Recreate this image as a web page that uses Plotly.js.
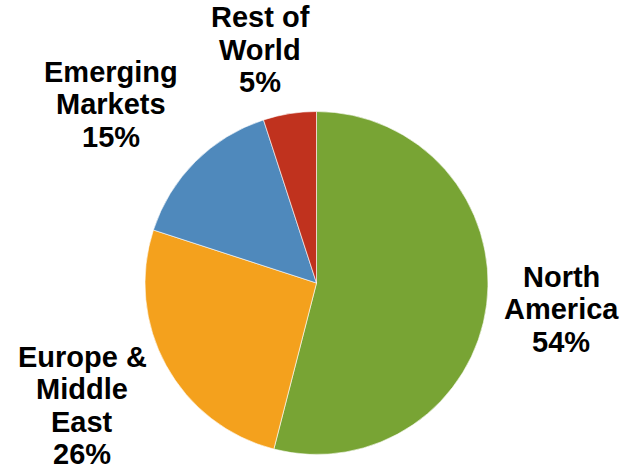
<!DOCTYPE html>
<html>
<head>
<meta charset="utf-8">
<script src="https://cdn.plot.ly/plotly-3.0.1.min.js"></script>
<style>html,body{margin:0;padding:0;background:#fff;}#chart{width:629px;height:473px;}</style>
</head>
<body>
<div id="chart"></div>
<script>
// Data
const regions = ['North America', 'Europe & Middle East', 'Emerging Markets', 'Rest of World'];
const shares = [54, 26, 15, 5];
const labelLines = [['North', 'America'], ['Europe &amp;', 'Middle', 'East'], ['Emerging', 'Markets'], ['Rest of', 'World']];
const sliceColors = ['#78a434', '#f4a11d', '#4f89bc', '#c0321e'];

// Label layout (pixel centre x, first-line baseline y)
const W = 629, H = 473;
const labelAnchor = [[561, 287], [82, 367], [111, 82], [260, 28]];
const pitch = 32.5;
const fontSize = 29;

const annotations = [];
const total = shares.reduce((a, b) => a + b, 0);
regions.forEach((r, i) => {
  const lines = labelLines[i].concat([Math.round(shares[i] / total * 100) + '%']);
  lines.forEach((t, j) => {
    const base = labelAnchor[i][1] + j * pitch;
    annotations.push({
      xref: 'paper', yref: 'paper',
      x: labelAnchor[i][0] / W,
      y: 1 - (base - 10.5) / H,
      xanchor: 'center', yanchor: 'middle',
      text: '<b>' + t + '</b>', showarrow: false, borderpad: 0,
      font: {family: 'Liberation Sans, Arial, sans-serif', size: fontSize, color: '#000', weight: 'bold'}
    });
  });
});

const trace = {
  type: 'pie',
  labels: regions,
  values: shares,
  sort: false,
  direction: 'clockwise',
  rotation: 0,
  textinfo: 'none',
  hoverinfo: 'label+percent',
  marker: {colors: sliceColors, line: {color: '#ffffff', width: 0.6}},
  domain: {x: [145 / W, 488 / W], y: [1 - 454.5 / H, 1 - 111.5 / H]},
  showlegend: false
};

Plotly.newPlot('chart', [trace], {
  width: W, height: H,
  margin: {l: 0, r: 0, t: 0, b: 0},
  paper_bgcolor: '#fff',
  showlegend: false,
  annotations: annotations
}, {displayModeBar: false, staticPlot: true});
</script>
</body>
</html>
